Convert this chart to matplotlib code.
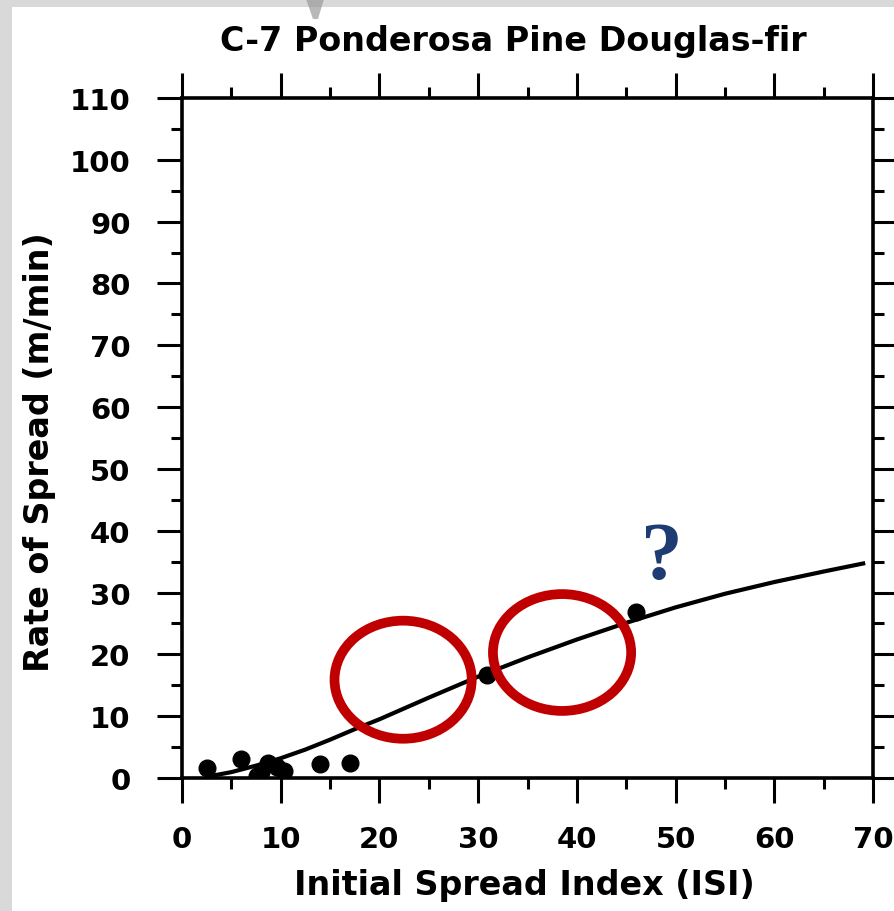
import matplotlib
matplotlib.use("Agg")
import matplotlib.pyplot as plt
from matplotlib.patches import Ellipse, Rectangle, Polygon
from matplotlib.ticker import MultipleLocator

# ---- data ----
obs_isi = [2.5, 6.0, 7.6, 8.0, 8.7, 9.6, 10.3, 14.0, 17.0, 30.9, 46.0]
obs_ros = [1.6, 3.0, 0.4, 1.0, 2.4, 1.8, 1.1, 2.2, 2.4, 16.6, 26.8]

curve_isi = [3, 5, 7.5, 10, 12.5, 15, 17.5, 20, 25, 30, 35, 40, 45, 50, 55, 60, 65, 69]
curve_ros = [0.35, 0.95, 2.0, 3.2, 4.6, 6.2, 7.9, 9.5, 13.0, 16.4, 19.5, 22.4, 25.1, 27.6, 29.8, 31.7, 33.4, 34.7]

x_ticks = [0, 10, 20, 30, 40, 50, 60, 70]
y_ticks = [0, 10, 20, 30, 40, 50, 60, 70, 80, 90, 100, 110]

title = "C-7 Ponderosa Pine Douglas-fir"
xlabel = "Initial Spread Index (ISI)"
ylabel = "Rate of Spread (m/min)"

W, H = 894, 912
fig = plt.figure(figsize=(W / 100, H / 100), dpi=100)
fig.patch.set_facecolor("white")

# gray scan border
fig.patches.append(Rectangle((0, 0), 12 / W, 1, transform=fig.transFigure,
                             facecolor="#d9d9d9", edgecolor="none", zorder=0))
fig.patches.append(Rectangle((0, 1 - 8 / H), 1, 8 / H, transform=fig.transFigure,
                             facecolor="#d9d9d9", edgecolor="none", zorder=0))
fig.patches.append(Polygon([(306 / W, 1.0), (324 / W, 1.0), (318 / W, 1 - 20 / H),
                            (313 / W, 1 - 20 / H)], closed=True,
                           transform=fig.transFigure, facecolor="#9a9a9a",
                           edgecolor="none", alpha=0.7, zorder=0))

L, R, T, B = 182, 873, 99, 779
ax = fig.add_axes([L / W, 1 - B / H, (R - L) / W, (B - T) / H])
ax.set_xlim(0, 70)
ax.set_ylim(0, 110)

for s in ax.spines.values():
    s.set_linewidth(2.6)
    s.set_color("black")

ax.xaxis.set_minor_locator(MultipleLocator(5))
ax.yaxis.set_minor_locator(MultipleLocator(5))
ax.set_xticks(x_ticks)
ax.set_yticks(y_ticks)
ax.tick_params(which="both", direction="out", top=True, right=True,
               width=2.2, color="black")
ax.tick_params(which="major", length=18, labelsize=21)
ax.tick_params(which="minor", length=8)
ax.tick_params(axis="x", which="major", pad=16, labeltop=False)
ax.tick_params(axis="y", which="major", pad=19, labelright=False)
for lab in ax.get_xticklabels() + ax.get_yticklabels():
    lab.set_fontweight("bold")
    lab.set_family("DejaVu Sans")

ax.plot(curve_isi, curve_ros, color="black", lw=3.0, zorder=3)
ax.plot(obs_isi, obs_ros, "o", color="black", ms=12, zorder=4)

# red annotation ellipses
for cx, cy, w, h in [(22.4, 15.9, 13.9, 19.1), (38.5, 20.3, 14.0, 18.9)]:
    ax.add_patch(Ellipse((cx, cy), w, h, facecolor="none", edgecolor="#c00000",
                         lw=7, zorder=5, clip_on=False))

fig.text(662 / W, 1 - 560 / H, "?", color="#1f3b73", fontsize=60,
         fontweight="bold", family="Liberation Serif", ha="center", va="center")

fig.text(513 / W, 1 - 41 / H, title, fontsize=24, fontweight="bold",
         ha="center", va="center")
fig.text(524 / W, 1 - 886 / H, xlabel, fontsize=24, fontweight="bold",
         ha="center", va="center")
fig.text(40 / W, 1 - 452 / H, ylabel, fontsize=24, fontweight="bold",
         rotation=90, ha="center", va="center")

fig.savefig("out.png", dpi=100)
